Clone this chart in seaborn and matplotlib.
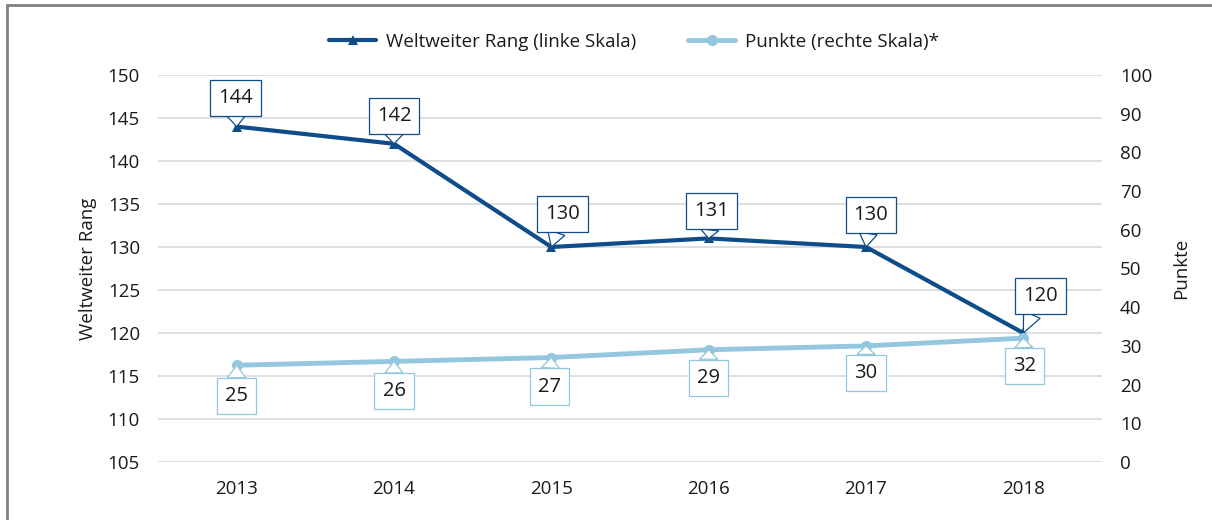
import numpy as np
import pandas as pd
import matplotlib
matplotlib.use("Agg")
import matplotlib.pyplot as plt
import seaborn as sns
from matplotlib.lines import Line2D

years = ["2013", "2014", "2015", "2016", "2017", "2018"]
rang = [144, 142, 130, 131, 130, 120]
punkte = [25, 26, 27, 29, 30, 32]
rang_ticks = [105, 110, 115, 120, 125, 130, 135, 140, 145, 150]
punkte_ticks = [0, 10, 20, 30, 40, 50, 60, 70, 80, 90, 100]
label_rang = "Weltweiter Rang (linke Skala)"
label_punkte = "Punkte (rechte Skala)*"

sns.set_theme(style="white")
plt.rcParams["font.family"] = ["Open Sans", "DejaVu Sans"]

dark = "#0E4C8A"
light = "#93C6DF"
txt = "#1a1a1a"
FS = 13.5
AFS = 14.5

df = pd.DataFrame({"pos": np.arange(len(years)), "rang": rang, "punkte": punkte})

fig = plt.figure(figsize=(12.12, 5.2), dpi=100)
ax = fig.add_axes([158 / 1212, 1 - 462 / 520, (1102 - 158) / 1212, (462 - 75) / 520])
ax2 = ax.twinx()

sns.lineplot(data=df, x="pos", y="rang", ax=ax, color=dark, lw=3,
             marker="^", markersize=7, markeredgewidth=0, zorder=3)
sns.lineplot(data=df, x="pos", y="punkte", ax=ax2, color=light, lw=3.5,
             marker="o", markersize=8, markeredgewidth=0, zorder=3)

ax.set_xlim(-0.5, len(years) - 0.5)
ax.set_ylim(105, 150)
ax2.set_ylim(0, 100)
ax.set_yticks(rang_ticks)
ax2.set_yticks(punkte_ticks)
ax.set_xticks(df["pos"], years)
ax.grid(axis="y", color="#d9d9d9", lw=1.2)
ax.grid(axis="x", visible=False)
ax2.grid(False)
ax.set_axisbelow(True)
for a in (ax, ax2):
    for s in a.spines.values():
        s.set_visible(False)
    a.tick_params(length=0, pad=13, labelsize=FS, colors=txt)
ax.set_xlabel("")
ax.set_ylabel("Weltweiter Rang", fontsize=FS, color=txt, labelpad=8)
ax2.set_ylabel("Punkte", fontsize=FS, color=txt, labelpad=14)

rang_off = [(-1, 29), (0, 28), (11, 33), (3, 27), (5, 32), (17, 37)]
punkte_off = [(0, -31), (0, -30), (-2, -29), (0, -28), (0, -27), (1, -28)]

wedge = "wedge,tail_width=0.9,shrink_factor=0.5"
for i, v in enumerate(rang):
    ax.annotate(str(v), xy=(i, v), xytext=rang_off[i], textcoords="offset pixels",
                ha="center", va="center", fontsize=AFS, color=txt, zorder=6,
                bbox=dict(boxstyle="square,pad=0.4", fc="white", ec=dark, lw=0.9),
                arrowprops=dict(arrowstyle=wedge, fc="white", ec=dark, lw=0.9,
                                shrinkA=0, shrinkB=0))
for i, v in enumerate(punkte):
    ax2.annotate(str(v), xy=(i, v), xytext=punkte_off[i], textcoords="offset pixels",
                 ha="center", va="center", fontsize=AFS, color=txt, zorder=6,
                 bbox=dict(boxstyle="square,pad=0.4", fc="white", ec=light, lw=0.9),
                 arrowprops=dict(arrowstyle=wedge, fc="white", ec=light, lw=0.9,
                                 shrinkA=0, shrinkB=0))

handles = [Line2D([], [], color=dark, lw=3, marker="^", markersize=7, markeredgewidth=0),
           Line2D([], [], color=light, lw=3.5, marker="o", markersize=8, markeredgewidth=0)]
leg = fig.legend(handles, [label_rang, label_punkte], loc="center",
                 bbox_to_anchor=(634 / 1212, 1 - 42 / 520), ncol=2, frameon=False,
                 fontsize=FS, handlelength=2.5, handletextpad=0.5, columnspacing=2.8)
for t in leg.get_texts():
    t.set_color(txt)

# outer frame (left and top edges)
fig.add_artist(Line2D([7 / 1212, 7 / 1212], [0, 1 - 5 / 520], color="#808080", lw=2,
                      transform=fig.transFigure))
fig.add_artist(Line2D([7 / 1212, 1], [1 - 5 / 520, 1 - 5 / 520], color="#808080", lw=2,
                      transform=fig.transFigure))

fig.savefig("out.png", dpi=100)
